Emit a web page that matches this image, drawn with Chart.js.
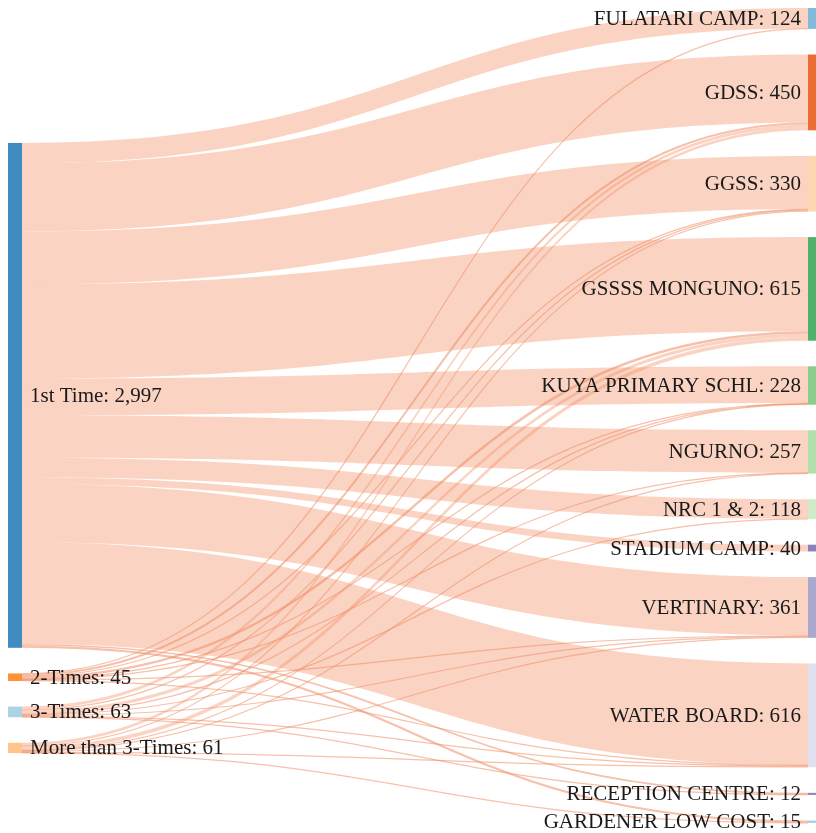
<!DOCTYPE html>
<html>
<head>
<meta charset="utf-8">
<script src="https://cdn.jsdelivr.net/npm/chart.js@4"></script>
<style>
  body { margin: 0; background: #fff; }
  canvas { display: block; }
</style>
</head>
<body>
<canvas id="myChart" width="816" height="833"></canvas>
<script>
// data ------------------------------------------------------------------
const sources = ['1st Time', '2-Times', '3-Times', 'More than 3-Times'];
const targets = ['FULATARI CAMP', 'GDSS', 'GGSS', 'GSSSS MONGUNO', 'KUYA PRIMARY SCHL', 'NGURNO',
  'NRC 1 & 2', 'STADIUM CAMP', 'VERTINARY', 'WATER BOARD', 'RECEPTION CENTRE', 'GARDENER LOW COST'];

// flows from each source to the targets (same order as targets)
const flowsFirstTime = [121, 404, 315, 559, 218, 252, 115, 40, 347, 603, 10, 13];
const flowsTwoTimes = [3, 12, 4, 14, 3, 2, 0, 0, 3, 4, 0, 0];
const flowsThreeTimes = [0, 18, 6, 20, 4, 0, 3, 0, 5, 5, 2, 0];
const flowsMoreThanThree = [0, 16, 5, 22, 3, 3, 0, 0, 6, 4, 0, 2];

const flows = [flowsFirstTime, flowsTwoTimes, flowsThreeTimes, flowsMoreThanThree];

// colors
const sourceColors = ['#1f77b4', '#ff7f0e', '#9ecae1', '#ffbb78'];
const targetColors = ['#6baed6', '#e6550d', '#fdd0a2', '#31a354', '#74c476', '#a1d99b',
  '#c7e9c0', '#756bb1', '#9e9ac8', '#dadaeb', '#756bb1', '#9ecae1'];

// totals ------------------------------------------------------------------
const sourceTotals = flows.map(f => f.reduce((a, b) => a + b, 0));
const targetTotals = targets.map((t, j) => flows.reduce((a, f) => a + f[j], 0));

const nodeGap = 152;       // gap between nodes, in value units
const leftOffset = 801;    // where the source column starts, in value units
const grandTotal = targetTotals.reduce((a, b) => a + b, 0);
const yMax = grandTotal + (targets.length - 1) * nodeGap;

// node positions (value units)
const srcTop = [];
let acc = leftOffset;
sourceTotals.forEach(v => { srcTop.push(acc); acc += v + nodeGap; });
const tgtTop = [];
acc = 0;
targetTotals.forEach(v => { tgtTop.push(acc); acc += v + nodeGap; });

const fmt = n => n.toLocaleString('en-US');

// sankey drawing plugin ---------------------------------------------------
const sankeyPlugin = {
  id: 'sankey',
  afterDatasetsDraw(chart) {
    const ctx = chart.ctx;
    const xs = chart.scales.x;
    const ys = chart.scales.y;
    const leftW = 14, rightW = 8;
    const x0 = xs.getPixelForValue(0) + leftW;
    const x1 = xs.getPixelForValue(1) - rightW;
    const xm = (x0 + x1) / 2;

    // links
    const srcUsed = sources.map(() => 0);
    const tgtUsed = targets.map(() => 0);
    ctx.save();
    for (let i = 0; i < sources.length; i++) {
      for (let j = 0; j < targets.length; j++) {
        const v = flows[i][j];
        if (!v) continue;
        const a0 = ys.getPixelForValue(srcTop[i] + srcUsed[i]);
        const a1 = ys.getPixelForValue(srcTop[i] + srcUsed[i] + v);
        const b0 = ys.getPixelForValue(tgtTop[j] + tgtUsed[j]);
        const b1 = ys.getPixelForValue(tgtTop[j] + tgtUsed[j] + v);
        srcUsed[i] += v;
        tgtUsed[j] += v;
        const h = Math.abs(a1 - a0);
        if (h < 2.5) {
          const ac = (a0 + a1) / 2, bc = (b0 + b1) / 2;
          ctx.beginPath();
          ctx.moveTo(x0, ac);
          ctx.bezierCurveTo(xm, ac, xm, bc, x1, bc);
          ctx.lineWidth = Math.max(h, 1.2);
          ctx.strokeStyle = 'rgba(240,140,100,0.55)';
          ctx.stroke();
        } else {
          ctx.beginPath();
          ctx.moveTo(x0, a0);
          ctx.bezierCurveTo(xm, a0, xm, b0, x1, b0);
          ctx.lineTo(x1, b1);
          ctx.bezierCurveTo(xm, b1, xm, a1, x0, a1);
          ctx.closePath();
          ctx.fillStyle = 'rgba(242,150,110,0.42)';
          ctx.fill();
        }
      }
    }

    // nodes
    ctx.globalAlpha = 0.85;
    sources.forEach((s, i) => {
      const t = ys.getPixelForValue(srcTop[i]);
      const b = ys.getPixelForValue(srcTop[i] + sourceTotals[i]);
      ctx.fillStyle = sourceColors[i];
      ctx.fillRect(x0 - leftW, t, leftW, Math.max(b - t, 1));
    });
    targets.forEach((s, j) => {
      const t = ys.getPixelForValue(tgtTop[j]);
      const b = ys.getPixelForValue(tgtTop[j] + targetTotals[j]);
      ctx.fillStyle = targetColors[j];
      ctx.fillRect(x1, t, rightW, Math.max(b - t, 1));
    });
    ctx.globalAlpha = 1;

    // labels
    ctx.font = '21px "Liberation Serif", "Times New Roman", serif';
    ctx.fillStyle = '#1a1a1a';
    ctx.textBaseline = 'middle';
    ctx.textAlign = 'left';
    sources.forEach((s, i) => {
      const c = ys.getPixelForValue(srcTop[i] + sourceTotals[i] / 2);
      ctx.fillText(s + ': ' + fmt(sourceTotals[i]), x0 + 8, c + 1);
    });
    ctx.textAlign = 'right';
    targets.forEach((s, j) => {
      const c = ys.getPixelForValue(tgtTop[j] + targetTotals[j] / 2);
      ctx.fillText(s + ': ' + fmt(targetTotals[j]), x1 - 7, c + 1);
    });
    ctx.restore();
  }
};

const ctx = document.getElementById('myChart').getContext('2d');
const myChart = new Chart(ctx, {
  type: 'scatter',
  data: { datasets: [{ data: [] }] },
  options: {
    responsive: false,
    animation: false,
    layout: { padding: { left: 8, right: 0, top: 8, bottom: 10 } },
    plugins: { legend: { display: false }, tooltip: { enabled: false } },
    scales: {
      x: { type: 'linear', min: 0, max: 1, display: false },
      y: { type: 'linear', min: 0, max: yMax, reverse: true, display: false }
    }
  },
  plugins: [sankeyPlugin]
});
</script>
</body>
</html>
